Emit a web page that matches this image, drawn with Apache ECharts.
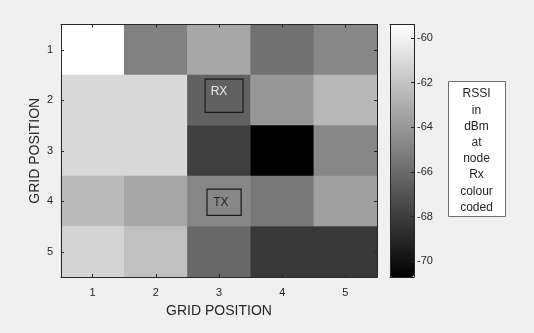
<!DOCTYPE html>
<html><head><meta charset="utf-8">
<script src="https://cdn.jsdelivr.net/npm/echarts@6/dist/echarts.min.js"></script>
<style>html,body{margin:0;padding:0;background:#f0f0f0}#c{width:534px;height:333px}</style>
</head><body><div id="c"></div>
<script>
const xCategories = ['1', '2', '3', '4', '5'];
const yCategories = ['1', '2', '3', '4', '5'];
const rssiRow1 = [-59.4, -65.0, -63.3, -65.7, -64.7];
const rssiRow2 = [-61.1, -61.1, -66.4, -64.0, -62.6];
const rssiRow3 = [-61.1, -61.1, -67.9, -70.7, -64.7];
const rssiRow4 = [-62.4, -63.3, -64.7, -65.4, -63.6];
const rssiRow5 = [-61.3, -62.2, -66.1, -68.2, -68.2];
const colorbarTicks = [-70, -68, -66, -64, -62, -60];
const colorMin = -70.7, colorMax = -59.4;
const annotationLabels = ['RX', 'TX'];
const annotationCellX = [2, 2];   // category index (GRID POSITION 3)
const annotationCellY = [1, 3];   // category index (GRID POSITION 2 and 4)
const legendLines = ['RSSI', 'in', 'dBm', 'at', 'node', 'Rx', 'colour', 'coded'];

// box extents in fractions of a cell, relative to cell centre: [left, right, top, bottom, textDx, textDy]
const boxShape = [[-0.22, 0.38, -0.42, 0.24, 0.0, -0.16], [-0.19, 0.35, -0.24, 0.28, 0.03, 0.02]];
const annotationTextColor = ['#e8e8e8', '#262626'];

const rows = [rssiRow1, rssiRow2, rssiRow3, rssiRow4, rssiRow5];
const heatData = [];
rows.forEach((r, yi) => r.forEach((v, xi) => heatData.push([xi, yi, v])));
const annData = annotationLabels.map((l, i) => [annotationCellX[i], annotationCellY[i], i]);

const FONT = "'Liberation Sans', Arial, Helvetica, sans-serif";
const AX = '#262626';
const chart = echarts.init(document.getElementById('c'));

const mainGrid = { left: 61, top: 24.5, width: 316, height: 252.5 };
const cbGrid = { left: 390, top: 24.5, width: 24, height: 252.5 };

chart.setOption({
  backgroundColor: '#f0f0f0',
  animation: false,
  textStyle: { fontFamily: FONT },
  grid: [
    Object.assign({ containLabel: false }, mainGrid),
    Object.assign({ containLabel: false }, cbGrid)
  ],
  xAxis: [
    { type: 'category', gridIndex: 0, data: xCategories, position: 'bottom', z: 10,
      name: 'GRID POSITION', nameLocation: 'middle', nameGap: 27, nameMoveOverlap: false,
      nameTextStyle: { color: AX, fontSize: 14, fontFamily: FONT },
      axisLine: { show: true, lineStyle: { color: AX, width: 1 } },
      axisTick: { show: true, inside: true, length: 3, alignWithLabel: true, lineStyle: { color: AX } },
      axisLabel: { color: AX, fontSize: 11, margin: 10, fontFamily: FONT },
      splitLine: { show: false } },
    { type: 'category', gridIndex: 0, data: xCategories, position: 'top', z: 10,
      axisLine: { show: true, lineStyle: { color: AX, width: 1 } },
      axisTick: { show: true, inside: true, length: 3, alignWithLabel: true, lineStyle: { color: AX } },
      axisLabel: { show: false }, splitLine: { show: false } },
    { type: 'value', gridIndex: 1, min: 0, max: 1, position: 'bottom', z: 10,
      axisLine: { show: true, onZero: false, lineStyle: { color: AX } },
      axisTick: { show: false }, axisLabel: { show: false }, splitLine: { show: false } },
    { type: 'value', gridIndex: 1, min: 0, max: 1, position: 'top', z: 10,
      axisLine: { show: true, onZero: false, lineStyle: { color: AX } },
      axisTick: { show: false }, axisLabel: { show: false }, splitLine: { show: false } }
  ],
  yAxis: [
    { type: 'category', gridIndex: 0, data: yCategories, inverse: true, position: 'left', z: 10,
      name: 'GRID POSITION', nameLocation: 'middle', nameGap: 19, nameRotate: 90,
      nameMoveOverlap: false,
      nameTextStyle: { color: AX, fontSize: 14, fontFamily: FONT },
      axisLine: { show: true, lineStyle: { color: AX, width: 1 } },
      axisTick: { show: true, inside: true, length: 3, alignWithLabel: true, lineStyle: { color: AX } },
      axisLabel: { color: AX, fontSize: 11, margin: 8, fontFamily: FONT },
      splitLine: { show: false } },
    { type: 'category', gridIndex: 0, data: yCategories, inverse: true, position: 'right', z: 10,
      axisLine: { show: true, lineStyle: { color: AX, width: 1 } },
      axisTick: { show: true, inside: true, length: 3, alignWithLabel: true, lineStyle: { color: AX } },
      axisLabel: { show: false }, splitLine: { show: false } },
    { type: 'value', gridIndex: 1, min: colorMin, max: colorMax, position: 'right', z: 10,
      axisLine: { show: true, onZero: false, lineStyle: { color: AX } },
      axisTick: { show: true, inside: true, length: 3, lineStyle: { color: AX },
        customValues: colorbarTicks },
      axisLabel: { color: AX, fontSize: 11, margin: 3, fontFamily: FONT,
        customValues: colorbarTicks, formatter: v => String(v) },
      splitLine: { show: false } },
    { type: 'value', gridIndex: 1, min: colorMin, max: colorMax, position: 'left', z: 10,
      axisLine: { show: true, onZero: false, lineStyle: { color: AX } },
      axisTick: { show: false }, axisLabel: { show: false }, splitLine: { show: false } }
  ],
  visualMap: {
    type: 'continuous', seriesIndex: 0, min: colorMin, max: colorMax,
    calculable: false, hoverLink: false, realtime: false,
    orient: 'vertical', left: cbGrid.left - 5, top: cbGrid.top - 5,
    itemWidth: cbGrid.width, itemHeight: cbGrid.height, padding: 5,
    text: null, showLabel: false,
    inRange: { color: ['#000000', '#ffffff'] }
  },
  series: [
    { type: 'heatmap', xAxisIndex: 0, yAxisIndex: 0, data: heatData,
      itemStyle: { borderWidth: 0 }, emphasis: { disabled: true }, progressive: 0 },
    { type: 'custom', xAxisIndex: 0, yAxisIndex: 0, data: annData, z: 5,
      renderItem: (params, api) => {
        const c = api.coord([api.value(0), api.value(1)]);
        const s = api.size([1, 1]);
        const i = api.value(2);
        const b = boxShape[i];
        return { type: 'group', children: [
          { type: 'rect', shape: { x: c[0] + b[0] * s[0], y: c[1] + b[2] * s[1],
              width: (b[1] - b[0]) * s[0], height: (b[3] - b[2]) * s[1] },
            style: { fill: 'none', stroke: '#1a1a1a', lineWidth: 1.2 } },
          { type: 'text', x: c[0] + b[4] * s[0], y: c[1] + b[5] * s[1],
            style: { text: annotationLabels[i], fill: annotationTextColor[i], fontSize: 12,
              fontFamily: FONT, align: 'center', verticalAlign: 'middle' } }
        ] };
      } }
  ],
  graphic: [
    { type: 'rect', left: 448, top: 81, shape: { width: 57, height: 135 },
      style: { fill: '#ffffff', stroke: '#6e6e6e', lineWidth: 1 } },
    { type: 'text', x: 476.5, y: 86, z: 100,
      style: { text: legendLines.join('\n'), fill: '#262626', fontSize: 12, lineHeight: 16.2,
        fontFamily: FONT, align: 'center', verticalAlign: 'top' } }
  ]
});
</script></body></html>
